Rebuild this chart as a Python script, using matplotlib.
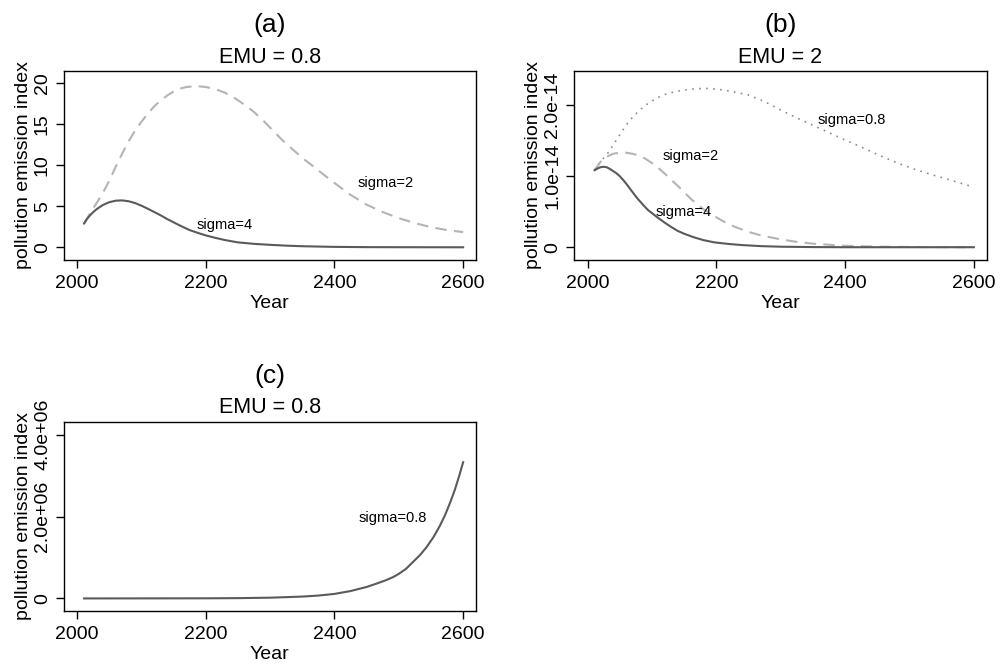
import matplotlib
matplotlib.use("Agg")
import matplotlib.pyplot as plt
import numpy as np

plt.rcParams['font.family'] = ['Liberation Sans', 'DejaVu Sans']

# ---- Panel (a): EMU = 0.8 ----
a_years_s2 = [2011, 2020, 2030, 2040, 2050, 2060, 2070, 2080, 2090, 2100, 2110, 2120, 2130,
              2140, 2150, 2160, 2170, 2185, 2200, 2215, 2230, 2245, 2260, 2275, 2290, 2305,
              2320, 2340, 2355, 2370, 2385, 2400, 2425, 2450, 2475, 2500, 2525, 2550, 2575,
              2600]
a_vals_s2 = [2.9, 4.1, 5.35, 6.6, 8.1, 9.8, 11.4, 12.9, 14.2, 15.3, 16.3, 17.2, 17.9,
             18.5, 19.0, 19.35, 19.55, 19.67, 19.55, 19.3, 18.85, 18.2, 17.4, 16.5, 15.4, 14.2,
             13.0, 11.6, 10.6, 9.7, 8.75, 7.85, 6.4, 5.2, 4.3, 3.55, 2.95, 2.45, 2.1,
             1.85]
a_years_s4 = [2011, 2015, 2020, 2025, 2030, 2040, 2050, 2060, 2070, 2080, 2090, 2100, 2110,
              2120, 2130, 2140, 2150, 2160, 2175, 2190, 2200, 2215, 2230, 2250, 2275, 2300,
              2325, 2350, 2400, 2450, 2500, 2600]
a_vals_s4 = [2.9, 3.4, 3.88, 4.28, 4.62, 5.15, 5.5, 5.68, 5.72, 5.62, 5.4, 5.08, 4.7,
             4.3, 3.9, 3.45, 3.05, 2.65, 2.1, 1.7, 1.45, 1.15, 0.88, 0.6, 0.42, 0.3,
             0.2, 0.13, 0.05, 0.02, 0.01, 0.0]

# ---- Panel (b): EMU = 2 (values in units of 1e-14) ----
b_years_s08 = [2011, 2020, 2032, 2040, 2047, 2055, 2063, 2073, 2083, 2095, 2109, 2122, 2135,
               2148, 2161, 2175, 2187, 2200, 2213, 2230, 2249, 2275, 2300, 2325, 2352, 2378,
               2403, 2430, 2455, 2480, 2507, 2533, 2559, 2580, 2600]
b_vals_s08 = [1.084, 1.2, 1.33, 1.44, 1.54, 1.65, 1.755, 1.86, 1.944, 2.03, 2.107, 2.155, 2.187,
              2.21, 2.225, 2.233, 2.234, 2.225, 2.21, 2.18, 2.145, 2.05, 1.93, 1.82, 1.708, 1.6,
              1.497, 1.39, 1.286, 1.19, 1.10, 1.025, 0.958, 0.9, 0.845]
b_years_s2 = [2011, 2020, 2030, 2040, 2050, 2060, 2070, 2080, 2090, 2100, 2110, 2120, 2130,
              2140, 2150, 2160, 2170, 2180, 2192, 2205, 2215, 2228, 2250, 2270, 2300, 2325,
              2350, 2400, 2450, 2500, 2600]
b_vals_s2 = [1.084, 1.2, 1.275, 1.315, 1.33, 1.33, 1.315, 1.29, 1.245, 1.185, 1.115, 1.035, 0.95,
             0.865, 0.775, 0.685, 0.605, 0.535, 0.465, 0.395, 0.345, 0.29, 0.215, 0.165, 0.11,
             0.075, 0.05, 0.02, 0.008, 0.003, 0.0]
b_years_s4 = [2011, 2016, 2020, 2025, 2030, 2035, 2040, 2045, 2050, 2055, 2060, 2065, 2070,
              2075, 2080, 2085, 2090, 2095, 2100, 2110, 2120, 2130, 2140, 2150, 2165, 2180,
              2197, 2220, 2240, 2270, 2300, 2350, 2400, 2600]
b_vals_s4 = [1.084, 1.11, 1.125, 1.132, 1.125, 1.10, 1.07, 1.04, 1.0, 0.95, 0.895, 0.835, 0.775,
             0.715, 0.66, 0.61, 0.56, 0.515, 0.48, 0.41, 0.345, 0.285, 0.23, 0.19, 0.14, 0.1,
             0.068, 0.045, 0.03, 0.015, 0.007, 0.002, 0.0, 0.0]

# ---- Panel (c): EMU = 0.8 (sigma = 0.8), values in units of 1e6 ----
c_years = [2011, 2100, 2200, 2250, 2300, 2350, 2375, 2400, 2425, 2450, 2465, 2480, 2491,
           2500, 2511, 2522, 2533, 2543, 2554, 2564, 2572, 2580, 2587, 2594, 2600]
c_vals = [0.0, 0.001, 0.003, 0.007, 0.018, 0.045, 0.07, 0.11, 0.18, 0.28, 0.36, 0.445, 0.52,
          0.6, 0.72, 0.89, 1.06, 1.25, 1.5, 1.78, 2.04, 2.35, 2.65, 3.0, 3.33]

x_ticks = [2000, 2200, 2400, 2600]
a_yticks = [0, 5, 10, 15, 20]
b_yticks = [0, 1.0e-14, 2.0e-14]
b_yticklabels = ["0", "1.0e-14", "2.0e-14"]
c_yticks = [0, 2.0e6, 4.0e6]
c_yticklabels = ["0", "2.0e+06", "4.0e+06"]

DARK = '#5a5a5a'
LIGHT = '#b4b4b4'
DOT = '#8c8c8c'
FS = 14
SFS = 10.5

W, H = 1001, 665
fig = plt.figure(figsize=(W / 100, H / 100), dpi=100)


def make_ax(left_px, top_px, right_px, bottom_px):
    return fig.add_axes([left_px / W, 1 - bottom_px / H,
                         (right_px - left_px) / W, (bottom_px - top_px) / H])


def style(ax, panel, title):
    for s in ax.spines.values():
        s.set_linewidth(1.0)
        s.set_color('black')
    ax.tick_params(direction='out', length=6, width=1.0, labelsize=FS, pad=5)
    ax.tick_params(axis='y', pad=3)
    ax.set_xticks(x_ticks)
    for lab in ax.get_yticklabels():
        lab.set_rotation(90)
        lab.set_va('center')
    ax.set_xlabel('Year', fontsize=FS, labelpad=2)
    ax.set_ylabel('pollution emission index', fontsize=FS, labelpad=1.5)
    ax.set_title(title, fontsize=15.5, pad=6)
    ax.text(0.5, 1.0 + 46 / 189, panel, transform=ax.transAxes, ha='center',
            va='center', fontsize=19)


DASH = (5.5, 3.5)

# (a)
ax1 = make_ax(63.5, 71, 476, 260)
ax1.plot(a_years_s2, a_vals_s2, color=LIGHT, lw=1.5, dashes=DASH)
ax1.plot(a_years_s4, a_vals_s4, color=DARK, lw=1.5)
ax1.set_xlim(1979, 2620)
ax1.set_ylim(-1.55, 21.5)
ax1.set_yticks(a_yticks)
ax1.set_yticklabels([str(v) for v in a_yticks])
ax1.text(2480, 7.84, 'sigma=2', fontsize=SFS, ha='center', va='center')
ax1.text(2230, 2.7, 'sigma=4', fontsize=SFS, ha='center', va='center')
style(ax1, '(a)', 'EMU = 0.8')

# (b)
ax2 = make_ax(574, 71, 986.7, 260)
ax2.plot(b_years_s08, np.array(b_vals_s08) * 1e-14, color=DOT, lw=1.2,
         linestyle=(0, (1, 3.2)))
ax2.plot(b_years_s2, np.array(b_vals_s2) * 1e-14, color=LIGHT, lw=1.5, dashes=DASH)
ax2.plot(b_years_s4, np.array(b_vals_s4) * 1e-14, color=DARK, lw=1.5)
ax2.set_xlim(1979, 2620)
ax2.set_ylim(-0.18e-14, 2.48e-14)
ax2.set_yticks(b_yticks)
ax2.set_yticklabels(b_yticklabels)
ax2.text(2410, 1.79e-14, 'sigma=0.8', fontsize=SFS, ha='center', va='center')
ax2.text(2160, 1.28e-14, 'sigma=2', fontsize=SFS, ha='center', va='center')
ax2.text(2150, 0.49e-14, 'sigma=4', fontsize=SFS, ha='center', va='center')
style(ax2, '(b)', 'EMU = 2')

# (c)
ax3 = make_ax(63.5, 421.7, 476, 610.7)
ax3.plot(c_years, np.array(c_vals) * 1e6, color=DARK, lw=1.5)
ax3.set_xlim(1979, 2620)
ax3.set_ylim(-0.30e6, 4.32e6)
ax3.set_yticks(c_yticks)
ax3.set_yticklabels(c_yticklabels)
ax3.text(2490, 1.97e6, 'sigma=0.8', fontsize=SFS, ha='center', va='center')
style(ax3, '(c)', 'EMU = 0.8')

fig.savefig('out.png', dpi=100)
